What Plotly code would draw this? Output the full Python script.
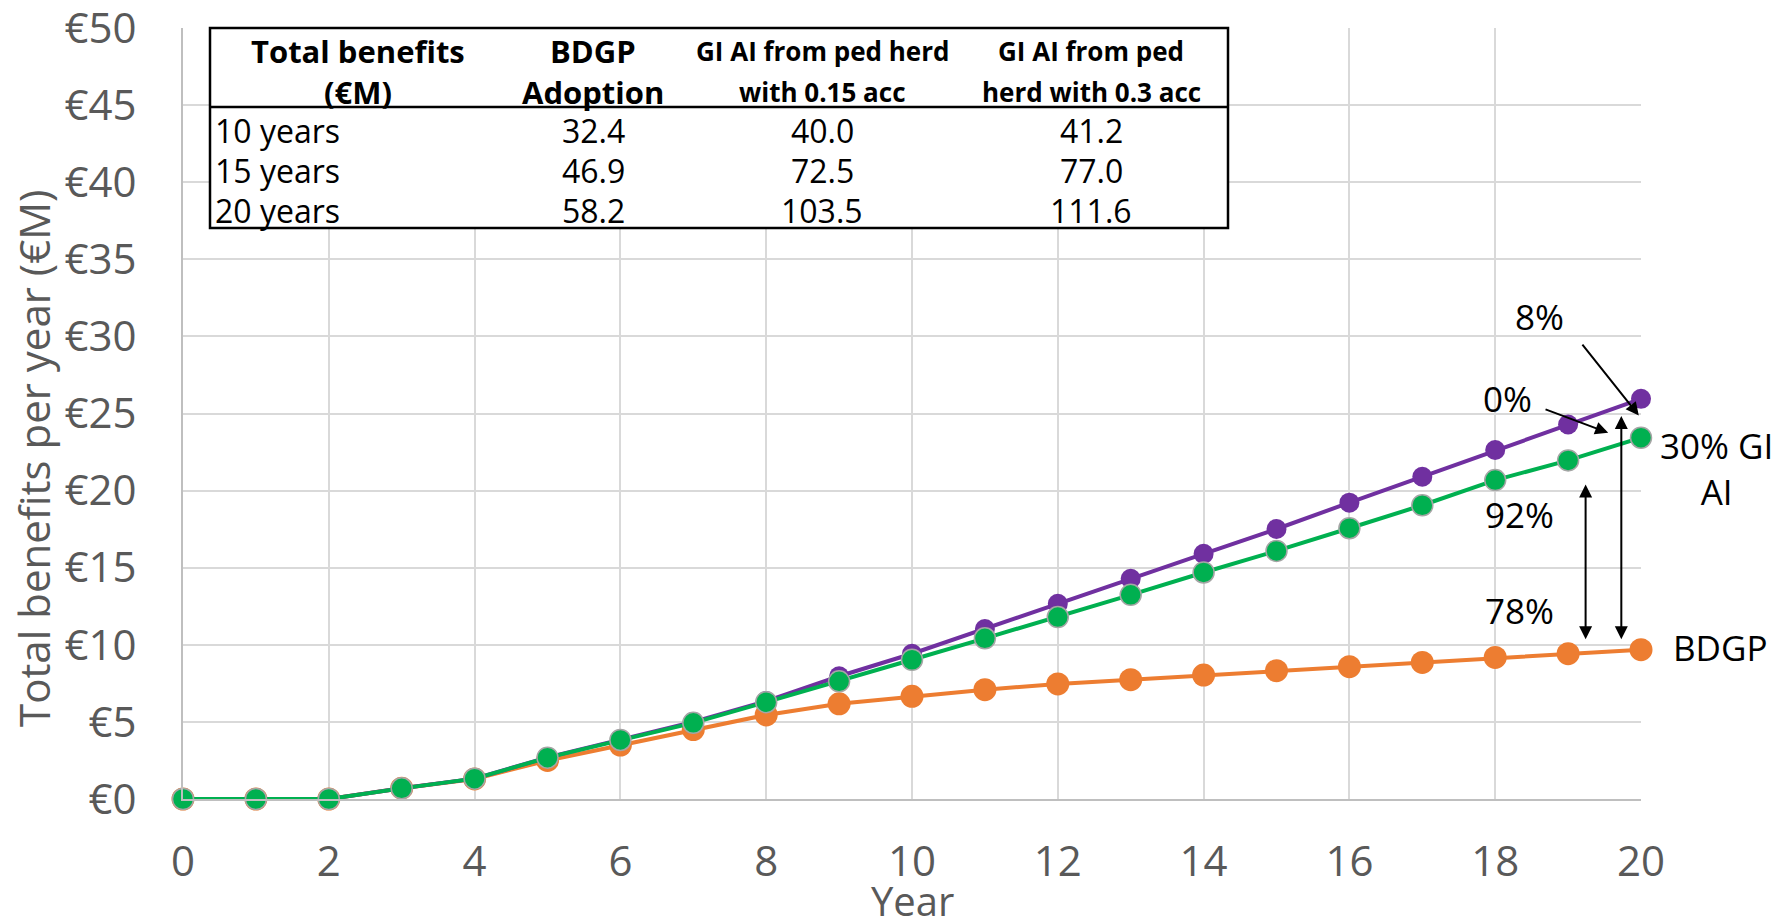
import plotly.graph_objects as go

# ---------------- data ----------------
years = list(range(21))
bdgp = [0, 0, 0, 0.70, 1.30, 2.50, 3.50, 4.50, 5.45, 6.17, 6.66, 7.09, 7.46, 7.74, 8.04,
        8.32, 8.58, 8.86, 9.18, 9.42, 9.68]
gi_acc03 = [0, 0, 0, 0.70, 1.32, 2.70, 3.87, 5.00, 6.35, 7.96, 9.42, 11.02, 12.66, 14.28,
            15.90, 17.51, 19.22, 20.90, 22.63, 24.29, 25.95]
gi_acc015 = [0, 0, 0, 0.69, 1.32, 2.68, 3.83, 4.94, 6.28, 7.63, 9.03, 10.42, 11.80, 13.24,
             14.69, 16.09, 17.56, 19.05, 20.68, 21.96, 23.43]

y_ticks = [0, 5, 10, 15, 20, 25, 30, 35, 40, 45, 50]
x_ticks = [0, 2, 4, 6, 8, 10, 12, 14, 16, 18, 20]

table_headers = [["Total benefits", "(€M)"], ["BDGP", "Adoption"],
                 ["GI AI from ped herd", "with 0.15 acc"], ["GI AI from ped", "herd with 0.3 acc"]]
table_rows = ["10 years", "15 years", "20 years"]
table_bdgp = [32.4, 46.9, 58.2]
table_gi015 = [40.0, 72.5, 103.5]
table_gi03 = [41.2, 77.0, 111.6]

pct_labels = ["8%", "0%", "92%", "78%"]
series_labels = ["30% GI<br>AI", "BDGP"]

# ---------------- geometry helpers (pixel -> paper) ----------------
W, H = 1781, 922
L, R, T, B = 183, 1641, 28, 799


def px(x):
    return (x - L) / (R - L)


def py(y):
    return (B - y) / (B - T)


ORANGE = "#ED7D31"
PURPLE = "#7030A0"
GREEN = "#00B050"
GREY_TXT = "#595959"
FONT = "Open Sans"

fig = go.Figure()
fig.add_trace(go.Scatter(x=years, y=bdgp, mode="lines+markers", name="BDGP",
                         line=dict(color=ORANGE, width=4),
                         marker=dict(color=ORANGE, size=23), cliponaxis=False))
fig.add_trace(go.Scatter(x=years, y=gi_acc03, mode="lines+markers", name="GI 0.3",
                         line=dict(color=PURPLE, width=4),
                         marker=dict(color=PURPLE, size=20), cliponaxis=False))
fig.add_trace(go.Scatter(x=years, y=gi_acc015, mode="lines+markers", name="GI 0.15",
                         line=dict(color=GREEN, width=4),
                         marker=dict(color=GREEN, size=21, line=dict(color="#A5A5A5", width=1.5)),
                         cliponaxis=False))

ann = []
# y axis title
ann.append(dict(text="Total benefits per year (€M)", xref="paper", yref="paper",
                x=px(33), y=py(459), textangle=-90, showarrow=False,
                font=dict(family=FONT, size=42, color=GREY_TXT),
                xanchor="center", yanchor="middle"))
# x axis title
ann.append(dict(text="Year", xref="paper", yref="paper", x=px(912), y=py(922), yshift=-8,
                showarrow=False, font=dict(family=FONT, size=40, color=GREY_TXT),
                xanchor="center", yanchor="bottom"))

# arrows
arr = dict(xref="x", yref="y", axref="x", ayref="y", text="", showarrow=True,
           arrowhead=2, arrowsize=1.3, arrowwidth=2, arrowcolor="black", standoff=0)
ann.append(dict(arr, x=19.97, y=24.87, ax=19.18, ay=29.57))
ann.append(dict(arr, x=19.55, y=23.75, ax=18.67, ay=25.3))
ann.append(dict(arr, x=19.73, y=24.83, ax=19.73, ay=10.26, arrowside="end+start",
                startarrowhead=2, startarrowsize=1.3, startstandoff=0))
ann.append(dict(arr, x=19.24, y=20.4, ax=19.24, ay=10.26, arrowside="end+start",
                startarrowhead=2, startarrowsize=1.3, startstandoff=0))

lbl_font = dict(family=FONT, size=35, color="black")
for txt, (xx, yy) in zip(pct_labels, [(18.61, 31.3), (18.17, 26.0), (18.34, 18.46), (18.34, 12.2)]):
    ann.append(dict(text=txt, xref="x", yref="y", x=xx, y=yy, showarrow=False,
                    font=lbl_font, xanchor="center", yanchor="middle"))
ann.append(dict(text=series_labels[0], xref="paper", yref="paper", x=px(1716), y=py(468),
                showarrow=False, font=lbl_font, xanchor="center", yanchor="middle",
                align="center"))
ann.append(dict(text=series_labels[1], xref="paper", yref="paper", x=px(1720), y=py(647),
                showarrow=False, font=lbl_font, xanchor="center", yanchor="middle"))

# table
TBL_L, TBL_R, TBL_T, TBL_B, TBL_SEP = 210, 1228, 28, 228, 107
col_x = [358, 593, 822, 1091]
hdr_sizes = [31, 31, 26, 26]
hdr_y = [51, 91.5]
for i, (lines, cx) in enumerate(zip(table_headers, col_x)):
    for t, yy in zip(lines, hdr_y):
        ann.append(dict(text="<b>%s</b>" % t, xref="paper", yref="paper", x=px(cx), y=py(yy),
                        showarrow=False, xanchor="center", yanchor="middle",
                        font=dict(family=FONT, size=hdr_sizes[i], color="black")))
row_y = [130, 170, 210]
cell_font = dict(family=FONT, size=32, color="black")
for k, yy in enumerate(row_y):
    ann.append(dict(text=table_rows[k], xref="paper", yref="paper", x=px(213), y=py(yy),
                    showarrow=False, xanchor="left", yanchor="middle", font=cell_font))
    for cx, vals in zip(col_x[1:], [table_bdgp, table_gi015, table_gi03]):
        ann.append(dict(text="%.1f" % vals[k], xref="paper", yref="paper", x=px(cx), y=py(yy),
                        showarrow=False, xanchor="center", yanchor="middle", font=cell_font))

shapes = [
    dict(type="rect", xref="paper", yref="paper", x0=px(TBL_L), x1=px(TBL_R), y0=py(TBL_B),
         y1=py(TBL_T), fillcolor="white", line=dict(color="black", width=2.5), layer="above"),
    dict(type="line", xref="paper", yref="paper", x0=px(TBL_L), x1=px(TBL_R), y0=py(TBL_SEP),
         y1=py(TBL_SEP), line=dict(color="black", width=2.5), layer="above"),
]

fig.update_layout(
    width=W, height=H, autosize=False,
    margin=dict(l=L, r=W - R, t=T, b=H - B, pad=0),
    plot_bgcolor="white", paper_bgcolor="white",
    showlegend=False,
    annotations=ann, shapes=shapes,
    xaxis=dict(range=[0, 20], tickvals=x_ticks, showgrid=True, gridcolor="#D9D9D9", gridwidth=2,
               showline=True, linecolor="#BFBFBF", linewidth=2, zeroline=False, ticks="",
               tickfont=dict(family=FONT, size=42, color=GREY_TXT), automargin=False,
               ticklabelstandoff=25, ticklabeloverflow="allow"),
    yaxis=dict(range=[0, 50], tickvals=y_ticks, ticktext=["€%d" % v for v in y_ticks],
               showgrid=True, gridcolor="#D9D9D9", gridwidth=2,
               showline=True, linecolor="#BFBFBF", linewidth=2, zeroline=False, ticks="",
               tickfont=dict(family=FONT, size=42, color=GREY_TXT), automargin=False,
               ticklabelstandoff=36, ticklabeloverflow="allow"),
)

fig.write_html("out.html", config={"displayModeBar": False},
               post_script="document.body.style.margin='0';document.body.style.overflow='hidden';")
